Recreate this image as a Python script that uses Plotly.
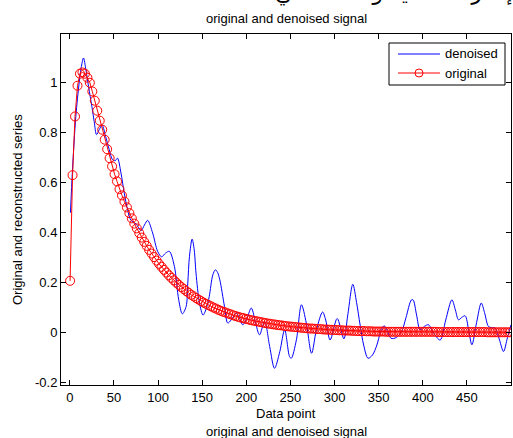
import plotly.graph_objects as go

# ---- data ----
orig_start = 0.3
orig_step = 2.8
orig_y = [0.207, 0.63, 0.865, 0.988, 1.036, 1.041, 1.036, 1.02, 1.0, 0.965,
          0.928, 0.888, 0.848, 0.812, 0.772, 0.734, 0.698, 0.665, 0.634, 0.605,
          0.574, 0.549,
          0.524, 0.501, 0.478, 0.457, 0.436, 0.417, 0.398, 0.380, 0.363, 0.347,
          0.331, 0.316, 0.302, 0.288, 0.275, 0.263, 0.251, 0.240, 0.229, 0.219,
          0.209, 0.200, 0.191, 0.182, 0.174, 0.166, 0.159, 0.151, 0.145, 0.138,
          0.132, 0.126, 0.120, 0.115, 0.110, 0.105, 0.100, 0.096, 0.091, 0.087,
          0.083, 0.080, 0.076, 0.073, 0.069, 0.066, 0.063, 0.060, 0.058, 0.055,
          0.053, 0.050, 0.048, 0.046, 0.044, 0.042, 0.040, 0.038, 0.036, 0.035,
          0.033, 0.032, 0.030, 0.029, 0.028, 0.026, 0.025, 0.024, 0.023, 0.022,
          0.021, 0.020, 0.019, 0.018, 0.017, 0.016, 0.016, 0.015, 0.014, 0.014,
          0.013, 0.012, 0.012, 0.011, 0.011, 0.010, 0.010, 0.009, 0.009, 0.008,
          0.008, 0.008, 0.007, 0.007, 0.006, 0.006, 0.006, 0.006, 0.005, 0.005,
          0.005, 0.004, 0.004, 0.004, 0.004, 0.004, 0.003,
          0.003, 0.003, 0.003, 0.003, 0.003, 0.003, 0.003, 0.003, 0.003, 0.003,
          0.003, 0.003, 0.003, 0.003, 0.003, 0.003, 0.003, 0.003, 0.003, 0.003,
          0.002, 0.002, 0.002, 0.002, 0.002, 0.002, 0.002, 0.002, 0.002, 0.002,
          0.002, 0.002, 0.002, 0.002, 0.002, 0.002, 0.002, 0.002, 0.002, 0.002,
          0.001, 0.001, 0.001, 0.001, 0.001, 0.001, 0.001, 0.001, 0.001, 0.001]
orig_x = [orig_start + orig_step * i for i in range(len(orig_y))]

den_x = [0.7, 3, 6.8, 10.6, 12.8, 15.5, 18.2, 21.2, 25, 27.6,
         30.3, 33.3, 36.5, 41, 44.7, 48.4, 51.5, 54, 58, 61.7,
         65.5, 69.3, 75, 80.7, 84.5, 88.2, 93.9, 99.5, 104, 108.5,
         112.8, 118.5, 123.4, 127.5, 131.8, 133.7, 135.6, 138.6, 141, 143,
         147, 151, 155, 158, 162, 165, 167.5, 170, 175.3, 179,
         183, 188.6, 192, 196, 201, 205.7, 211, 215, 220.8, 226.5,
         232, 238, 243.5, 249, 251, 256.8, 262.5, 268, 274, 279.5,
         286.5, 290, 295, 303, 310.6, 315, 320.7, 325, 329, 333,
         338, 343, 348, 352, 356.2, 360, 364, 370, 376, 381,
         387, 389, 393, 397, 402, 406.4, 412, 419.7, 426, 433,
         437, 440.5, 444, 448, 452, 455.7, 461, 466.3, 470, 474.5,
         478, 482, 487, 491.5, 496, 500]
den_y = [0.48, 0.65, 0.865, 1.0, 1.059, 1.099, 1.052, 0.985, 0.905, 0.845,
         0.792, 0.812, 0.83, 0.779, 0.732, 0.692, 0.688, 0.698, 0.638, 0.558,
         0.491, 0.449, 0.435, 0.408, 0.43, 0.449, 0.398, 0.325, 0.303, 0.318,
         0.325, 0.265, 0.131, 0.075, 0.104, 0.198, 0.305, 0.374, 0.33, 0.238,
         0.118, 0.07, 0.1, 0.144, 0.23, 0.251, 0.24, 0.211, 0.104, 0.038,
         0.051, 0.078, 0.06, 0.031, 0.06, 0.098, 0.031, -0.009, 0.044, -0.056,
         -0.143, -0.076, 0.011, -0.096, -0.103, -0.029, 0.111, 0.038, -0.083, 0.011,
         0.082, 0.05, -0.03, 0.056, -0.025, 0.07, 0.193, 0.12, 0.03, -0.05,
         -0.103, -0.09, -0.05, 0.0, 0.027, 0.005, -0.023, -0.02, 0.004, 0.06,
         0.13, 0.131, 0.07, 0.011, 0.025, 0.031, 0.0, -0.03, 0.05, 0.131,
         0.09, 0.051, 0.06, 0.067, 0.01, -0.049, 0.04, 0.118, 0.08, 0.024,
         0.02, 0.018, -0.03, -0.076, -0.02, 0.031]

series_names = ["denoised", "original"]
x_ticks = [0, 50, 100, 150, 200, 250, 300, 350, 400, 450]
y_ticks = [-0.2, 0, 0.2, 0.4, 0.6, 0.8, 1]
y_tick_text = ["-0.2", "0", "0.2", "0.4", "0.6", "0.8", "1"]

W, H = 513, 438
L, R, T, B = 61, 2, 34, 53
PW, PH = W - L - R, H - T - B
FONT = "Liberation Sans, Arial, sans-serif"
BLUE, RED = "#0000ff", "#ff0000"


def px_x(p):
    return (p - L) / PW


def px_y(p):
    return (H - B - p) / PH


fig = go.Figure()
fig.add_trace(go.Scatter(
    x=den_x, y=den_y, mode="lines", name=series_names[0],
    line=dict(color=BLUE, width=1, shape="spline", smoothing=0.9),
))
fig.add_trace(go.Scatter(
    x=orig_x, y=orig_y, mode="lines+markers", name=series_names[1],
    line=dict(color=RED, width=1),
    marker=dict(symbol="circle-open", size=9, color=RED,
                line=dict(width=1, color=RED)),
))

axis_common = dict(
    showline=True, linecolor="black", linewidth=1, mirror="ticks",
    ticks="inside", ticklen=5, tickcolor="black", tickwidth=1,
    showgrid=False, zeroline=False,
    tickfont=dict(family=FONT, size=13, color="black"),
)
fig.update_xaxes(range=[-10, 500], tickvals=x_ticks, **axis_common)
fig.update_yaxes(range=[-0.21, 1.195], tickvals=y_ticks, ticktext=y_tick_text,
                 **axis_common)

annos = [
    dict(text="original and denoised signal", x=px_x(286), y=px_y(18),
         xanchor="center", yanchor="middle"),
    dict(text="Data point", x=px_x(286), y=px_y(413),
         xanchor="center", yanchor="middle"),
    dict(text="original and denoised signal", x=px_x(286), y=px_y(431),
         xanchor="center", yanchor="middle"),
    dict(text="Original and reconstructed series", x=px_x(18), y=px_y(210),
         xanchor="center", yanchor="middle", textangle=-90),
]
for a in annos:
    fig.add_annotation(xref="paper", yref="paper", showarrow=False,
                       font=dict(family=FONT, size=13, color="black"), **a)

# caption above the figure, cut off by the top edge as in the reference
fig.add_annotation(
    text="الإشارة الأصلية والمنقاة في",
    xref="paper", yref="paper", x=px_x(528), y=px_y(8),
    xanchor="right", yanchor="bottom", showarrow=False,
    font=dict(family="DejaVu Sans, Noto Sans, sans-serif", size=22, color="black"),
)

# legend box drawn in MATLAB style
shapes = [
    dict(type="rect", xref="paper", yref="paper",
         x0=px_x(389), x1=px_x(505), y0=px_y(43), y1=px_y(85),
         line=dict(color="black", width=1), fillcolor="white", layer="above"),
    dict(type="line", xref="paper", yref="paper",
         x0=px_x(398), x1=px_x(440), y0=px_y(54), y1=px_y(54),
         line=dict(color=BLUE, width=1), layer="above"),
    dict(type="line", xref="paper", yref="paper",
         x0=px_x(398), x1=px_x(440), y0=px_y(73), y1=px_y(73),
         line=dict(color=RED, width=1), layer="above"),
    dict(type="circle", xref="paper", yref="paper",
         x0=px_x(415), x1=px_x(423), y0=px_y(69), y1=px_y(77),
         line=dict(color=RED, width=1), fillcolor="rgba(0,0,0,0)", layer="above"),
]
for s in shapes:
    fig.add_shape(**s)
for name, yy in zip(series_names, [54, 73]):
    fig.add_annotation(text=name, xref="paper", yref="paper",
                       x=px_x(443), y=px_y(yy), xanchor="left", yanchor="middle",
                       showarrow=False,
                       font=dict(family=FONT, size=13, color="black"))

fig.update_layout(
    width=W, height=H,
    margin=dict(l=L, r=R, t=T, b=B, pad=0),
    paper_bgcolor="white", plot_bgcolor="white",
    showlegend=False,
)

fig.write_html(
    "out.html",
    config={"displayModeBar": False},
    post_script="document.body.style.margin='0';document.body.style.overflow='hidden';",
)
